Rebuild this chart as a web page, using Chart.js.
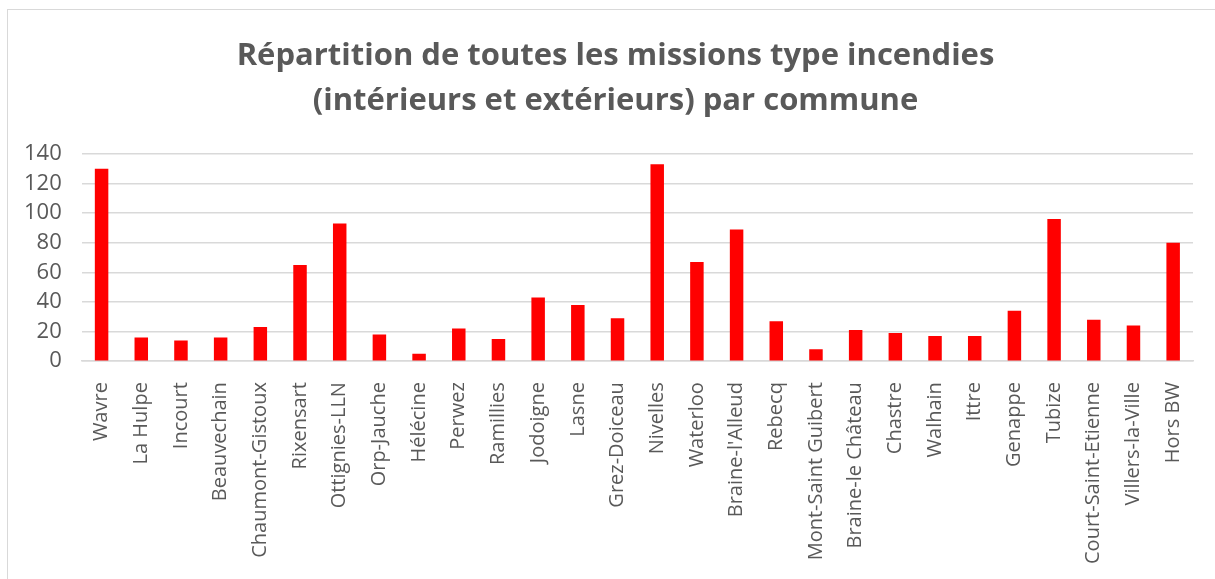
<!DOCTYPE html>
<html>
<head>
<meta charset="utf-8">
<script src="https://cdn.jsdelivr.net/npm/chart.js@4.4.1/dist/chart.umd.min.js"></script>
<style>
  html, body { margin: 0; padding: 0; background: #fff; overflow: hidden; }
  #frame {
    position: absolute; left: 7px; top: 9px; width: 1220px; height: 640px;
    border: 1px solid #d9d9d9; box-sizing: border-box;
  }
  #wrap { position: absolute; left: 0; top: 0; width: 1215px; height: 591px; }
</style>
</head>
<body>
<div id="frame"></div>
<div id="wrap"><canvas id="chart"></canvas></div>
<script>
const communes = [
  'Wavre', 'La Hulpe', 'Incourt', 'Beauvechain', 'Chaumont-Gistoux', 'Rixensart',
  'Ottignies-LLN', 'Orp-Jauche', 'Hélécine', 'Perwez', 'Ramillies', 'Jodoigne',
  'Lasne', 'Grez-Doiceau', 'Nivelles', 'Waterloo', "Braine-l'Alleud", 'Rebecq',
  'Mont-Saint Guibert', 'Braine-le Château', 'Chastre', 'Walhain', 'Ittre',
  'Genappe', 'Tubize', 'Court-Saint-Etienne', 'Villers-la-Ville', 'Hors BW'
];
const missions = [
  130, 16, 14, 16, 23, 65,
  93, 18, 5, 22, 15, 43,
  38, 29, 133, 67, 89, 27,
  8, 21, 19, 17, 17,
  34, 96, 28, 24, 80
];
const titleLines = [
  'Répartition de toutes les missions type incendies',
  '(intérieurs et extérieurs) par commune'
];

const grey = '#595959';
const gridGrey = '#d9d9d9';

// le titre Excel est centré sur le cadre, pas sur la zone padding -> on le décale un peu
const titleShift = {
  id: 'titleShift',
  afterLayout(chart) {
    if (chart.titleBlock) chart.titleBlock.left += 34;
  }
};

new Chart(document.getElementById('chart'), {
  type: 'bar',
  data: {
    labels: communes,
    datasets: [{
      label: 'Missions',
      data: missions,
      backgroundColor: '#ff0000',
      barPercentage: 0.34,
      categoryPercentage: 1
    }]
  },
  options: {
    responsive: true,
    maintainAspectRatio: false,
    animation: false,
    layout: { padding: { left: 4, right: 22, top: 34, bottom: 14 } },
    plugins: {
      legend: { display: false },
      tooltip: { enabled: false },
      title: {
        display: true,
        text: titleLines,
        color: grey,
        font: { family: 'Open Sans', size: 31, weight: 'bold', lineHeight: 1.45 },
        padding: { top: 0, bottom: 30 }
      }
    },
    scales: {
      x: {
        grid: { display: false },
        border: { color: gridGrey, width: 1.5 },
        ticks: {
          color: grey,
          font: { family: 'Open Sans', size: 20 },
          maxRotation: 90, minRotation: 90,
          autoSkip: false,
          padding: 13
        }
      },
      y: {
        min: 0, max: 140,
        grid: { color: gridGrey, lineWidth: 1.5, drawTicks: false },
        border: { display: false },
        ticks: {
          stepSize: 20,
          autoSkip: false,
          color: grey,
          font: { family: 'Open Sans', size: 22 },
          padding: 20
        }
      }
    }
  },
  plugins: [titleShift]
});
</script>
</body>
</html>
